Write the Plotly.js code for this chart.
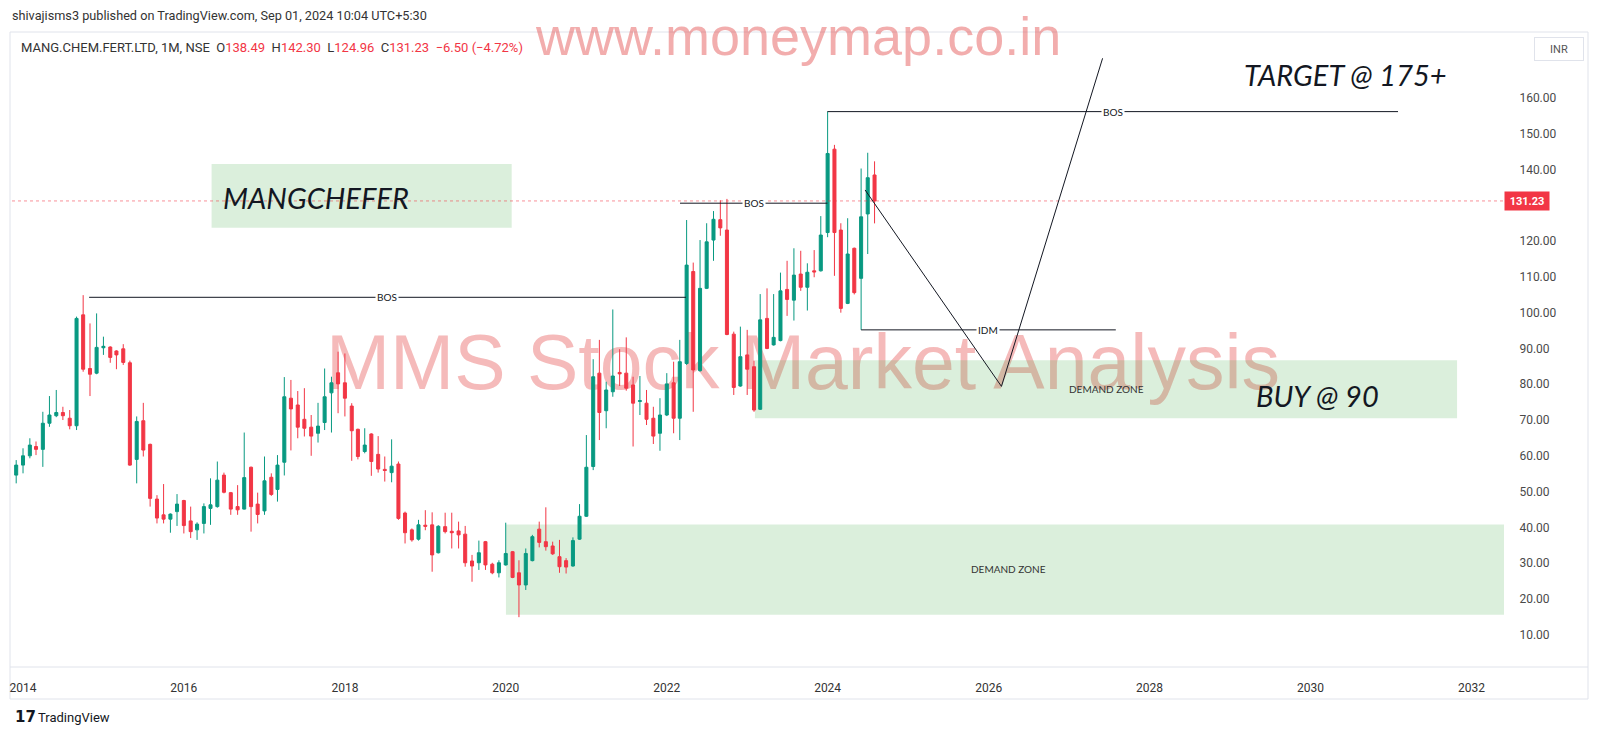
<!DOCTYPE html>
<html><head><meta charset="utf-8">
<script src="https://cdn.plot.ly/plotly-3.0.1.min.js"></script>
<style>html,body{margin:0;padding:0;background:#fff;overflow:hidden}#chart{width:1600px;height:737px}</style>
</head><body><div id="chart"></div>
<script>
// ---- data (monthly candles, Dec 2013 .. Aug 2024) ----
const firstMonth = [2013, 12];
const openVals = [
 54.6,
 57.4,60.0,62.6,61.8,69.1,71.2,72.1,70.5,68.4,99.4,84.4,83.1,
 90.2,90.4,89.3,89.9,86.0,59.0,69.8,63.2,47.9,43.5,42.3,44.4,
 47.5,41.8,39.3,41.1,45.3,45.8,54.6,49.7,45.8,45.1,56.8,46.5,
 44.6,54.0,50.6,58.2,76.1,74.2,70.2,68.0,66.3,69.3,77.6,83.2,
 80.4,73.9,67.4,61.2,66.1,60.4,56.2,55.3,57.7,44.0,39.3,36.7,
 40.6,40.7,32.9,40.2,38.9,39.0,38.1,30.6,30.1,36.0,29.7,27.3,
 29.5,33.2,27.3,23.9,30.7,39.5,36.0,34.8,31.8,30.7,29.2,36.7,
 43.1,57.0,83.1,72.6,77.9,83.3,83.1,79.8,75.2,74.7,70.5,66.3,
 71.4,80.4,70.5,85.8,111.5,83.8,106.8,120.3,126.0,123.1,94.0,79.5,
 88.2,84.9,73.0,98.4,91.0,92.2,106.5,103.5,110.8,107.1,111.7,111.7,
 122.4,145.7,123.1,102.6,118.0,109.6,127.6,138.49];
const highVals = [
 58.8,
 62.1,64.9,64.0,72.3,76.7,78.4,73.7,72.8,98.9,104.9,97.0,99.8,
 93.3,90.6,89.5,91.2,86.6,71.0,74.8,63.4,49.0,52.1,43.9,49.3,
 47.7,45.8,41.4,46.7,53.7,58.4,55.3,49.9,51.8,66.5,57.0,49.7,
 59.8,55.1,60.2,82.0,81.2,78.1,78.9,71.4,74.8,84.4,82.1,89.1,
 88.6,74.7,67.6,67.7,66.3,65.5,59.8,64.6,58.4,44.4,39.7,42.1,
 44.8,44.2,40.6,44.1,44.1,41.6,40.4,32.3,36.3,36.2,30.1,30.8,
 41.3,33.4,30.8,34.1,37.9,41.6,45.6,36.0,36.5,31.4,37.2,46.5,
 65.8,87.0,92.4,80.7,100.9,89.8,93.1,82.1,82.3,78.4,73.7,76.1,
 83.1,86.3,92.4,125.9,114.0,120.3,125.0,128.4,131.4,131.8,94.7,96.1,
 95.2,86.6,105.2,106.8,105.2,111.2,114.5,118.0,117.3,113.8,117.5,127.0,
 156.2,146.9,125.0,126.4,118.2,140.3,144.7,142.30];
const lowVals = [
 52.3,
 55.1,59.3,60.2,56.9,68.1,70.8,70.0,67.4,67.2,83.5,76.7,82.8,
 88.2,86.0,84.2,85.4,57.2,52.3,59.8,45.8,41.1,41.1,38.5,40.4,
 38.3,37.0,36.5,38.3,40.7,45.5,49.5,43.5,43.5,45.0,38.8,41.1,
 43.5,48.8,47.2,54.5,61.5,64.9,65.4,60.0,63.7,67.2,66.5,71.9,
 71.0,58.6,59.0,60.7,54.4,55.3,52.8,52.6,42.1,35.5,36.0,36.3,
 39.2,27.6,32.7,38.3,34.1,34.1,29.0,24.8,28.1,28.1,26.9,26.0,
 29.3,25.8,14.9,22.5,30.5,34.4,33.5,32.3,27.3,27.1,29.0,36.5,
 42.9,56.0,64.4,67.7,76.5,79.5,78.2,62.6,71.4,68.6,63.3,61.4,
 71.1,66.3,64.4,85.4,72.3,83.5,106.6,114.5,121.5,93.7,77.0,79.3,
 77.0,72.3,72.8,89.8,90.8,92.0,99.1,97.8,106.1,100.6,109.9,111.5,
 121.1,110.3,100.0,102.4,105.1,95.2,116.4,124.96];
const closeVals = [
 57.4,
 60.0,63.0,61.8,69.1,71.4,72.1,71.2,68.4,98.4,84.2,82.8,90.3,
 90.6,87.5,88.2,86.1,57.4,69.6,61.6,48.1,42.6,42.3,43.7,46.5,
 40.5,38.8,40.9,45.8,46.3,53.2,49.8,45.1,44.9,53.9,45.8,43.6,
 53.0,49.2,57.4,76.5,73.1,68.0,67.7,65.5,68.3,76.5,80.4,80.1,
 76.1,67.0,59.8,63.0,58.4,56.3,55.9,57.1,42.5,38.5,36.5,40.7,
 40.3,32.3,40.3,38.8,38.5,37.9,30.1,29.2,32.9,29.5,27.3,30.1,
 32.7,26.0,23.9,32.7,37.4,35.8,34.6,32.6,29.0,28.9,36.3,43.1,
 56.8,82.1,72.1,78.4,82.3,82.9,78.9,74.7,75.4,70.2,65.5,71.4,
 80.1,70.5,86.3,113.3,84.0,106.8,119.8,126.1,123.7,93.9,79.1,87.7,
 84.2,72.8,98.0,90.0,93.1,106.1,103.7,110.5,107.1,111.3,111.4,121.7,
 144.5,122.4,101.2,116.4,105.6,126.8,137.73,131.23];
const yearTicks = [2014,2016,2018,2020,2022,2024,2026,2028,2030,2032];
const priceTicks = [10,20,30,40,50,60,70,80,90,100,110,120,130,140,150,160];

// ---- author's drawings (date, price) ----
const bosLines = [
  {x0:'2014-10-28', x1:'2022-03-29', y:104.3},
  {x0:'2022-03-02', x1:'2023-12-31', y:130.6},
  {x0:'2023-12-31', x1:'2031-02-02', y:156.2}
];
const idmLine = {x0:'2024-06-01', x1:'2027-08-01', y:95.2};
const pathX = ['2024-06-19','2026-02-28','2027-06-02'];
const pathY = [134.3, 79.4, 171.1];
const nameBox = {x0:'2016-05-06', x1:'2020-01-28', y0:123.75, y1:141.55};
const demandBoxes = [
  {x0:'2023-02-05', x1:'2031-10-28', y0:70.5, y1:86.7, lx:'2027-06-18', ly:78.6},
  {x0:'2020-01-02', x1:'2032-06-29', y0:15.6, y1:40.8, lx:'2026-03-30', ly:28.5}
];

// ---- build ----
const dates = openVals.map((_, i) => {
  const m = firstMonth[1] - 1 + i;
  const y = firstMonth[0] + Math.floor(m / 12);
  const mm = (m % 12) + 1;
  return y + '-' + String(mm).padStart(2, '0') + '-01';
});
const last = openVals.length - 1;
const lastClose = closeVals[last];
const prevClose = closeVals[last - 1];
const chg = lastClose - prevClose;
const chgPct = chg / prevClose * 100;

const GREEN = '#089981', RED = '#F23645';
const L = 12, R = 1504, T = 31, B = 667;
const PW = R - L, PH = B - T;
const px = x => (x - L) / PW;
const py = y => (B - y) / PH;
const midDate = (a, b) => new Date((new Date(a).getTime() + new Date(b).getTime()) / 2).toISOString().slice(0, 10);

const trace = {
  type: 'candlestick', x: dates, open: openVals, high: highVals, low: lowVals, close: closeVals,
  increasing: {line: {color: GREEN, width: 1}, fillcolor: GREEN},
  decreasing: {line: {color: RED, width: 1}, fillcolor: RED},
  whiskerwidth: 0, hoverinfo: 'skip', showlegend: false
};

const shapes = [];
const annotations = [];
const FRAME = '#e0e3eb';
// frame
shapes.push({type:'rect', xref:'paper', yref:'paper', x0:px(10), x1:px(1588), y0:py(699), y1:py(32), line:{color:FRAME, width:1}, fillcolor:'rgba(0,0,0,0)', layer:'below'});
shapes.push({type:'line', xref:'paper', yref:'paper', x0:px(10), x1:px(1588), y0:py(667), y1:py(667), line:{color:FRAME, width:1}, layer:'below'});
// watermark (below candles)
shapes.push({type:'rect', xref:'paper', yref:'paper', x0:px(303), x1:px(1303), y0:py(396), y1:py(314), line:{width:0}, fillcolor:'rgba(0,0,0,0)', layer:'below',
  label:{text:'MMS Stock Market Analysis', textposition:'middle center', font:{family:'Liberation Sans, Arial, sans-serif', size:77, color:'rgba(232,90,90,0.42)'}}});
// boxes
shapes.push({type:'rect', xref:'x', yref:'y', x0:nameBox.x0, x1:nameBox.x1, y0:nameBox.y0, y1:nameBox.y1, line:{width:0}, fillcolor:'rgba(76,175,80,0.2)', layer:'below'});
demandBoxes.forEach(b => {
  shapes.push({type:'rect', xref:'x', yref:'y', x0:b.x0, x1:b.x1, y0:b.y0, y1:b.y1, line:{width:0}, fillcolor:'rgba(76,175,80,0.2)', layer:'below'});
  annotations.push({xref:'x', yref:'y', x:b.lx, y:b.ly, text:'DEMAND ZONE', showarrow:false, font:{family:'Lato', size:10, color:'#333'}});
});
// last price line
shapes.push({type:'line', xref:'paper', yref:'y', x0:0, x1:1, y0:lastClose, y1:lastClose, line:{color:'rgba(242,54,69,0.55)', width:1, dash:'dot'}, layer:'above'});
// BOS / IDM lines
bosLines.forEach(b => {
  shapes.push({type:'line', xref:'x', yref:'y', x0:b.x0, x1:b.x1, y0:b.y, y1:b.y, line:{color:'#131722', width:1}, layer:'above'});
  annotations.push({xref:'x', yref:'y', x:midDate(b.x0, b.x1), y:b.y, text:'BOS', showarrow:false, bgcolor:'#ffffff', borderpad:1, font:{family:'Lato', size:10, color:'#131722'}});
});
shapes.push({type:'line', xref:'x', yref:'y', x0:idmLine.x0, x1:idmLine.x1, y0:idmLine.y, y1:idmLine.y, line:{color:'#131722', width:1}, layer:'above'});
annotations.push({xref:'x', yref:'y', x:midDate(idmLine.x0, idmLine.x1), y:idmLine.y, text:'IDM', showarrow:false, bgcolor:'#ffffff', borderpad:1, font:{family:'Lato', size:10, color:'#131722'}});
for (let i = 0; i < pathX.length - 1; i++) {
  shapes.push({type:'line', xref:'x', yref:'y', x0:pathX[i], x1:pathX[i+1], y0:pathY[i], y1:pathY[i+1], line:{color:'#131722', width:1}, layer:'above'});
}

// texts
const ital = {family:'Lato', size:29, color:'#131722', style:'italic'};
annotations.push({xref:'paper', yref:'paper', x:px(221), y:py(197), xanchor:'left', yanchor:'middle', text:'MANGCHEFER', showarrow:false, font:ital});
annotations.push({xref:'paper', yref:'paper', x:px(1242), y:py(74), xanchor:'left', yanchor:'middle', text:'TARGET @ 175+', showarrow:false, font:ital});
annotations.push({xref:'paper', yref:'paper', x:px(1254), y:py(395), xanchor:'left', yanchor:'middle', text:'BUY @ 90', showarrow:false, font:ital});
// watermark top
annotations.push({xref:'paper', yref:'paper', x:px(798), y:py(36), xanchor:'center', yanchor:'middle', text:'www.moneymap.co.in', showarrow:false, font:{family:'Liberation Sans, Arial, sans-serif', size:54, color:'rgba(228,80,80,0.47)'}});
// header
annotations.push({xref:'paper', yref:'paper', x:px(10), y:py(15), xanchor:'left', yanchor:'middle', showarrow:false,
  text:'shivajisms3 published on TradingView.com, Sep 01, 2024 10:04 UTC+5:30', font:{family:'Roboto', size:12.7, color:'#333'}});
const red = s => '<span style="color:' + RED + '">' + s + '</span>';
const sp = '\u00a0\u00a0';
const sign = chg < 0 ? '\u2212' : '+';
annotations.push({xref:'paper', yref:'paper', x:px(19), y:py(47), xanchor:'left', yanchor:'middle', showarrow:false,
  text:'MANG.CHEM.FERT.LTD, 1M, NSE' + sp + 'O' + red(openVals[last].toFixed(2)) + sp + 'H' + red(highVals[last].toFixed(2)) + sp + 'L' + red(lowVals[last].toFixed(2)) + sp + 'C' + red(lastClose.toFixed(2)) + sp + red(sign + Math.abs(chg).toFixed(2) + ' (' + sign + Math.abs(chgPct).toFixed(2) + '%)'),
  font:{family:'Roboto', size:13, color:'#333'}});
// price label
annotations.push({xref:'paper', yref:'y', x:px(R), y:lastClose, xanchor:'left', yanchor:'middle', showarrow:false, text:'<b>' + lastClose.toFixed(2) + '</b>', bgcolor:RED, width:40, height:14, borderpad:2, font:{family:'Roboto', size:11, color:'#ffffff'}});
// INR button
annotations.push({xref:'paper', yref:'paper', x:px(1559), y:py(49), xanchor:'center', yanchor:'middle', showarrow:false, text:'INR', bgcolor:'#ffffff', bordercolor:FRAME, borderwidth:1, width:44, height:18, borderpad:2, font:{family:'Roboto', size:11, color:'#555'}});
// TradingView logo
annotations.push({xref:'paper', yref:'paper', x:px(13), y:py(717), xanchor:'left', yanchor:'middle', showarrow:false, text:'<b>17</b>', font:{family:'DejaVu Sans', size:15, color:'#131722'}});
annotations.push({xref:'paper', yref:'paper', x:px(36), y:py(717), xanchor:'left', yanchor:'middle', showarrow:false, text:'TradingView', font:{family:'Roboto', size:13, color:'#131722'}});

// price ticks hidden where the last-price label sits
const shownTicks = priceTicks.filter(v => Math.abs(v - lastClose) > 4);

const layout = {
  width: 1600, height: 737,
  margin: {l: L, r: 1600 - R, t: T, b: 737 - B, pad: 0},
  paper_bgcolor: '#ffffff', plot_bgcolor: '#ffffff',
  showlegend: false,
  xaxis: {type:'date', range:['2013-11-12','2032-05-28'], rangeslider:{visible:false},
    tickvals: yearTicks.map(y => y + '-01-01'), ticktext: yearTicks.map(String),
    showgrid:false, zeroline:false, showline:false, ticks:'outside', ticklen:10, tickcolor:'rgba(0,0,0,0)',
    tickfont:{family:'Roboto', size:12, color:'#333'}, fixedrange:true},
  yaxis: {side:'right', range:[0.97, 178.73], tickvals: shownTicks, ticktext: shownTicks.map(v => v.toFixed(2)),
    showgrid:false, zeroline:false, showline:false, ticks:'outside', ticklen:12, tickcolor:'rgba(0,0,0,0)',
    tickfont:{family:'Roboto', size:12, color:'#4a4a4a'}, fixedrange:true},
  shapes: shapes, annotations: annotations
};
Plotly.newPlot('chart', [trace], layout, {displayModeBar:false, staticPlot:true});
</script></body></html>
